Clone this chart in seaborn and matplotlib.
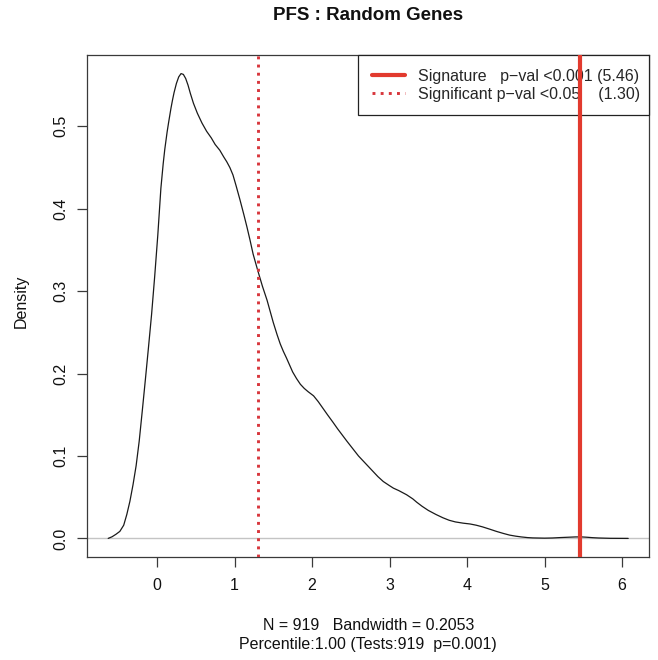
import matplotlib
matplotlib.use("Agg")
import matplotlib.pyplot as plt
import numpy as np
import pandas as pd
import seaborn as sns

# ---- data ----
density_x = [-0.63, -0.58, -0.53, -0.48, -0.43, -0.39, -0.35, -0.31, -0.27, -0.23,
             -0.19, -0.15, -0.11, -0.07, -0.03, 0.01, 0.05, 0.08, 0.10, 0.13,
             0.15, 0.18, 0.20, 0.22, 0.25, 0.28, 0.31, 0.34, 0.37, 0.40,
             0.43, 0.47, 0.52, 0.58, 0.64, 0.70, 0.75, 0.81, 0.86, 0.90,
             0.94, 0.98, 1.02, 1.07, 1.12, 1.16, 1.20, 1.24, 1.30, 1.36,
             1.42, 1.50, 1.55, 1.59, 1.63, 1.67, 1.75, 1.80, 1.85, 1.90,
             1.95, 2.02, 2.08, 2.14, 2.20, 2.27, 2.33, 2.45, 2.60, 2.75,
             2.85, 2.92, 3.00, 3.05, 3.12, 3.22, 3.30, 3.35, 3.42, 3.50,
             3.60, 3.69, 3.77, 3.85, 3.95, 4.04, 4.12, 4.20, 4.30, 4.38,
             4.47, 4.55, 4.63, 4.70, 4.78, 4.85, 5.00, 5.10, 5.20, 5.30,
             5.40, 5.48, 5.55, 5.62, 5.70, 5.85, 6.08]
density_y = [0.000, 0.002, 0.005, 0.0085, 0.016, 0.029, 0.045, 0.065, 0.088, 0.118,
             0.155, 0.193, 0.232, 0.272, 0.318, 0.368, 0.425, 0.455, 0.472, 0.493,
             0.505, 0.522, 0.532, 0.541, 0.552, 0.560, 0.564, 0.563, 0.558, 0.550,
             0.540, 0.528, 0.516, 0.504, 0.494, 0.486, 0.478, 0.471, 0.463, 0.457,
             0.450, 0.441, 0.428, 0.411, 0.393, 0.378, 0.362, 0.345, 0.325, 0.306,
             0.289, 0.262, 0.247, 0.236, 0.227, 0.219, 0.202, 0.194, 0.187, 0.182,
             0.178, 0.173, 0.166, 0.158, 0.150, 0.141, 0.133, 0.118, 0.100, 0.085,
             0.075, 0.069, 0.064, 0.061, 0.058, 0.053, 0.048, 0.044, 0.039, 0.034,
             0.029, 0.025, 0.022, 0.020, 0.0185, 0.0175, 0.016, 0.014, 0.011, 0.0085,
             0.006, 0.004, 0.0027, 0.0018, 0.0010, 0.0006, 0.0003, 0.0005, 0.0010, 0.0014,
             0.0018, 0.0018, 0.0014, 0.0009, 0.0005, 0.0001, 0.000]
signature_score = 5.46
significance_cutoff = 1.30
x_ticks = [0, 1, 2, 3, 4, 5, 6]
y_ticks = [0.0, 0.1, 0.2, 0.3, 0.4, 0.5]
title_text = "PFS : Random Genes"
y_label = "Density"
legend_labels = ["Signature   p\u2212val <0.001 (5.46)",
                 "Significant p\u2212val <0.05    (1.30)"]
footer_lines = ["N = 919   Bandwidth = 0.2053",
                "Percentile:1.00 (Tests:919  p=0.001)"]

# ---- style ----
sns.set_style("white")
plt.rcParams["font.family"] = ["Liberation Sans", "DejaVu Sans"]

FS = 11.5
W, H = 658, 660
fig = plt.figure(figsize=(W / 100, H / 100), dpi=100)
left_px, right_px, top_px, bottom_px = 87.4, 649, 55, 557
ax = fig.add_axes([left_px / W, 1 - bottom_px / H,
                   (right_px - left_px) / W, (bottom_px - top_px) / H])

df = pd.DataFrame({"x": density_x, "density": density_y})
ax.axhline(0, color="#c4c4c4", lw=1.0, zorder=1)
sns.lineplot(data=df, x="x", y="density", color="#1a1a1a", lw=0.9, ax=ax,
             zorder=2, legend=False)

sig_line = ax.axvline(significance_cutoff, color="#d8363c", lw=2.1,
                      ls=(0, (1, 1.8)), zorder=3)
sig_score_line = ax.axvline(signature_score, color="#e23a2e", lw=3.0, zorder=7)

# R-style axis ranges (4% padding)
xr = max(density_x) - min(density_x)
ax.set_xlim(min(density_x) - 0.04 * xr, max(density_x) + 0.04 * xr)
yr = max(density_y) - min(density_y)
ax.set_ylim(min(density_y) - 0.04 * yr, max(density_y) + 0.04 * yr)

ax.set_xticks(x_ticks)
ax.set_xticklabels([str(t) for t in x_ticks])
ax.set_yticks(y_ticks)
ax.set_yticklabels([f"{t:.1f}" for t in y_ticks])
ax.set_xlabel("")
ax.set_ylabel("")

for sp in ax.spines.values():
    sp.set_visible(True)
    sp.set_color("#3a3a3a")
    sp.set_linewidth(0.9)

ax.tick_params(axis="both", which="both", direction="out", length=7,
               width=0.9, color="#3a3a3a", labelsize=FS, labelcolor="#111111")
ax.tick_params(axis="x", pad=8, bottom=True)
ax.tick_params(axis="y", pad=7, left=True, labelrotation=90)
for lab in ax.get_yticklabels():
    lab.set_va("center")

leg = ax.legend([sig_score_line, sig_line], legend_labels,
                loc="upper right", bbox_to_anchor=(0.4818, 0, 0.5182, 1),
                mode="expand", borderaxespad=0, fontsize=FS, frameon=True,
                fancybox=False, edgecolor="#222222", framealpha=1,
                handlelength=2.1, handletextpad=0.8, borderpad=0.85,
                labelspacing=0.2)
leg.get_frame().set_linewidth(0.9)
leg.set_zorder(5)

cx = (left_px + right_px) / 2 / W
fig.text(cx, 1 - 15 / H, title_text, ha="center", va="center",
         fontsize=13.5, fontweight="bold", color="#111111")
fig.text(21 / W, 1 - 301 / H, y_label, ha="center", va="center",
         rotation=90, fontsize=FS, color="#111111")
fig.text(cx, 1 - 626 / H, footer_lines[0], ha="center", va="center",
         fontsize=FS, color="#111111")
fig.text(cx, 1 - 644 / H, footer_lines[1], ha="center", va="center",
         fontsize=FS, color="#111111")

fig.savefig("out.png", dpi=100)
